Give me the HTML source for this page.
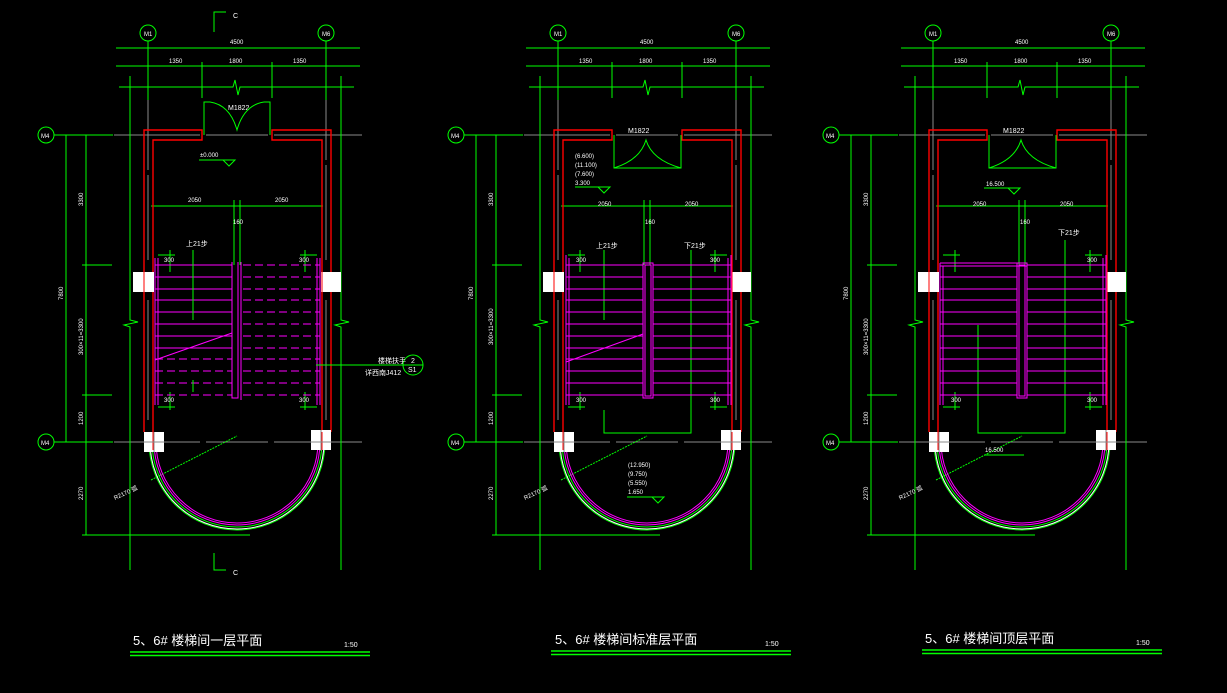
<!DOCTYPE html>
<html><head><meta charset="utf-8"><style>
html,body{margin:0;padding:0;background:#000;}
svg{display:block;}
text{font-family:"Liberation Sans","Noto Sans CJK SC",sans-serif;fill:#fff;}
</style></head><body>
<svg width="1227" height="693" viewBox="0 0 1227 693" xmlns="http://www.w3.org/2000/svg">
<defs>
<g id="base" fill="none">
  <!-- grey axes -->
  <g stroke="#8a8a8a" stroke-width="1">
    <path d="M114 135H200M206 135H268M274 135H362M114 442H200M206 442H268M274 442H362"/>
    <path d="M148 100V170M148 175V260M148 300V420M326 100V160M326 165V260M326 300V420"/>
  </g>
  <g stroke="#00ff00" stroke-width="1">
    <circle cx="148" cy="33" r="8"/><circle cx="326" cy="33" r="8"/>
    <path d="M148 41V100M326 41V100"/>
    <path d="M116 48H360M116 66H360M202 62V98M272 62V98"/>
    <path d="M119 87H233L235 80L238 95L240 87H354"/>
    <path d="M130 76V320L138 322L124 325L130 327V570M341 76V320L349 322L335 325L341 327V570"/>
    <circle cx="46" cy="135" r="8"/><circle cx="46" cy="442" r="8"/>
    <path d="M54 135H113M54 442H113M66 135V442M86 135V535M82 265H112M82 395H112M82 535H250"/>
    <path d="M151 206H323M234 200V265M240 200V265"/>
    <path d="M151 480 L237 436" stroke-dasharray="2 1"/>
    <path d="M149 442 A88 88 0 0 0 325 442"/>
    <path d="M152 442 A85 85 0 0 0 322 442"/>
    <path d="M135 114V114"/>
  </g>
  <g stroke="#fff" stroke-width="1" fill="none">
    <path d="M150 442 A87 87 0 0 0 324 442"/>
  </g>
  <g stroke="#ff00ff" stroke-width="1" fill="none">
    <path d="M154 442 A83 83 0 0 0 320 442"/>
    <path d="M156 442 A81 81 0 0 0 318 442"/>
  </g>
  <!-- red walls -->
  <g stroke="#ff0000" stroke-width="1.4" fill="none">
    <path d="M202 135V130H144V432M202 135V140H153V432"/>
    <path d="M272 135V130H331V432M272 135V140H322V432"/>
  </g>
  <!-- white pillars -->
  <g fill="#fff">
    <rect x="133" y="272" width="21" height="20"/><rect x="321" y="272" width="20" height="20"/>
    <rect x="144" y="432" width="20" height="20"/><rect x="311" y="430" width="20" height="20"/>
  </g>
  <g stroke="#ff0000" stroke-width="1"><path d="M144 272V292M322 272V292M153 432V450M322 432V450"/></g>
  <g stroke="#888"><path d="M144 442H164M311 442H331M154 432V452M321 430V451"/></g>
  <!-- small dims near stairs -->
  <g stroke="#00ff00"><path d="M158 255H175M170 250V272M300 255H317M305 250V272M158 407H175M170 392V410M300 407H317M305 392V410"/></g>
</g>
</defs>

<use href="#base"/>
<use href="#base" transform="translate(410 0)"/>
<use href="#base" transform="translate(785 0)"/>

<!-- ============ PLAN 1 ============ -->
<g font-size="6">
  <text x="144" y="36">M1</text><text x="322" y="36">M6</text>
  <text x="41" y="138">M4</text><text x="41" y="445">M4</text>
  <text x="230" y="44">4500</text>
  <text x="169" y="63">1350</text><text x="229" y="63">1800</text><text x="293" y="63">1350</text>
  <text x="188" y="202">2050</text><text x="275" y="202">2050</text><text x="233" y="224">160</text>
  <text x="200" y="157">±0.000</text>
  <text x="186" y="246" font-size="7">上21步</text>
  <text x="164" y="262">300</text><text x="299" y="262">300</text><text x="164" y="402">300</text><text x="299" y="402">300</text>
  <text transform="translate(83 206) rotate(-90)">3300</text>
  <text transform="translate(63 300) rotate(-90)">7800</text>
  <text transform="translate(83 355) rotate(-90)">300×11=3300</text>
  <text transform="translate(83 425) rotate(-90)">1200</text>
  <text transform="translate(83 500) rotate(-90)">2270</text>
  <text transform="translate(115 500) rotate(-25)">R2170 弧</text>
  <text x="228" y="110" font-size="7">M1822</text>
  <text x="233" y="18" font-size="7">C</text><text x="233" y="575" font-size="7">C</text>
</g>
<path d="M214 32V12H226M214 553V570H226" stroke="#00ff00" fill="none"/>
<path d="M204 135V102H210M270 135V102H264M210 102Q230 105 237 130Q244 105 264 102" stroke="#00ff00" fill="none"/>
<path d="M199 160H235L229 166L223 160" stroke="#00ff00" fill="none"/>
<!-- stairs plan1 -->
<g stroke="#ff00ff" stroke-width="1" fill="none">
  <path d="M155 265H232M155 277H232M155 289H232M155 300H232M155 312H232M155 324H232M155 336H232M155 348H232"/>
  <path d="M155 359H232M155 371H232M155 383H232M155 395H232" stroke-dasharray="8 4"/>
  <path d="M243 265H320M243 277H320M243 289H320M243 300H320M243 312H320M243 324H320M243 336H320M243 348H320M243 359H320M243 371H320M243 383H320M243 395H320" stroke-dasharray="8 4"/>
  <path d="M232 262V398H238V262M241 262V400" />
  <path d="M155 258V405M158 258V405M317 258V405M320 258V405"/>
  <path d="M155 360L232 333"/>
</g>
<path d="M193 250V320M193 380V392" stroke="#00ff00"/>
<path d="M316 365H420" stroke="#00ff00"/>
<circle cx="413" cy="365" r="10" stroke="#00ff00" fill="none"/>
<path d="M403 365H423" stroke="#00ff00"/>
<text x="411" y="363" font-size="7">2</text><text x="408" y="372" font-size="7">S1</text>
<text x="378" y="363" font-size="7">楼梯扶手</text><text x="365" y="375" font-size="7">详西南J412</text>

<!-- ============ PLAN 2 ============ -->
<g font-size="6">
  <text x="554" y="36">M1</text><text x="732" y="36">M6</text>
  <text x="451" y="138">M4</text><text x="451" y="445">M4</text>
  <text x="640" y="44">4500</text>
  <text x="579" y="63">1350</text><text x="639" y="63">1800</text><text x="703" y="63">1350</text>
  <text x="598" y="206">2050</text><text x="685" y="206">2050</text><text x="645" y="224">160</text>
  <text x="575" y="158">(6.600)</text><text x="575" y="167">(11.100)</text><text x="575" y="176">(7.600)</text><text x="575" y="185">3.300</text>
  <text x="596" y="248" font-size="7">上21步</text><text x="684" y="248" font-size="7">下21步</text>
  <text x="576" y="262">300</text><text x="710" y="262">300</text><text x="576" y="402">300</text><text x="710" y="402">300</text>
  <text transform="translate(493 206) rotate(-90)">3300</text>
  <text transform="translate(473 300) rotate(-90)">7800</text>
  <text transform="translate(493 345) rotate(-90)">300×11=3300</text>
  <text transform="translate(493 425) rotate(-90)">1200</text>
  <text transform="translate(493 500) rotate(-90)">2270</text>
  <text transform="translate(525 500) rotate(-25)">R2170 弧</text>
  <text x="628" y="133" font-size="7">M1822</text>
  <text x="628" y="467">(12.950)</text><text x="628" y="476">(9.750)</text><text x="628" y="485">(5.550)</text><text x="628" y="494">1.650</text>
</g>
<path d="M614 135V168H681V135M614 168Q640 160 646 140Q652 160 681 168" stroke="#00ff00" fill="none"/>
<path d="M575 187H610L604 193L598 187M627 497H664L658 503L652 497" stroke="#00ff00" fill="none"/>
<path d="M604 410V433H691V410M604 250V320M691 250V410" stroke="#00ff00" fill="none"/>
<g stroke="#ff00ff" stroke-width="1" fill="none">
  <path d="M566 265H643M566 277H643M566 289H643M566 300H643M566 312H643M566 324H643M566 336H643M566 348H643M566 359H643M566 371H643M566 383H643M566 395H643"/>
  <path d="M653 265H731M653 277H731M653 289H731M653 300H731M653 312H731M653 324H731M653 336H731M653 348H731M653 359H731M653 371H731M653 383H731M653 395H731"/>
  <rect x="643" y="263" width="10" height="135"/><rect x="645" y="265" width="6" height="131"/>
  <path d="M566 255V405M569 258V405M728 258V405M731 255V405"/>
  <path d="M566 362L643 334"/>
</g>

<!-- ============ PLAN 3 ============ -->
<g font-size="6">
  <text x="929" y="36">M1</text><text x="1107" y="36">M6</text>
  <text x="826" y="138">M4</text><text x="826" y="445">M4</text>
  <text x="1015" y="44">4500</text>
  <text x="954" y="63">1350</text><text x="1014" y="63">1800</text><text x="1078" y="63">1350</text>
  <text x="973" y="206">2050</text><text x="1060" y="206">2050</text><text x="1020" y="224">160</text>
  <text x="986" y="186">16.500</text>
  <text x="1058" y="235" font-size="7">下21步</text>
  <text x="1087" y="262">300</text><text x="951" y="402">300</text><text x="1087" y="402">300</text>
  <text transform="translate(868 206) rotate(-90)">3300</text>
  <text transform="translate(848 300) rotate(-90)">7800</text>
  <text transform="translate(868 355) rotate(-90)">300×11=3300</text>
  <text transform="translate(868 425) rotate(-90)">1200</text>
  <text transform="translate(868 500) rotate(-90)">2270</text>
  <text transform="translate(900 500) rotate(-25)">R2170 弧</text>
  <text x="1003" y="133" font-size="7">M1822</text>
  <text x="985" y="452">16.500</text>
</g>
<path d="M989 135V168H1056V135M989 168Q1015 160 1021 140Q1027 160 1056 168" stroke="#00ff00" fill="none"/>
<path d="M984 188H1020L1014 194L1008 188M984 455H1024" stroke="#00ff00" fill="none"/>
<path d="M978 325V433H1065V410M1065 240V410" stroke="#00ff00" fill="none"/>
<g stroke="#ff00ff" stroke-width="1" fill="none">
  <path d="M940 263H1027M940 266H1027"/>
  <path d="M940 277H1017M940 289H1017M940 300H1017M940 312H1017M940 324H1017M940 336H1017M940 348H1017M940 359H1017M940 371H1017M940 383H1017M940 395H1017"/>
  <path d="M1027 265H1106M1027 277H1106M1027 289H1106M1027 300H1106M1027 312H1106M1027 324H1106M1027 336H1106M1027 348H1106M1027 359H1106M1027 371H1106M1027 383H1106M1027 395H1106"/>
  <rect x="1017" y="263" width="10" height="135"/><rect x="1019" y="265" width="6" height="131"/>
  <path d="M940 263V405M943 266V405M1103 258V405M1106 255V405"/>
</g>

<!-- ============ TITLES ============ -->
<g font-size="13" font-family="Liberation Sans, Noto Sans CJK SC, sans-serif">
  <text x="133" y="645">5、6#  楼梯间一层平面</text>
  <text x="555" y="644">5、6#  楼梯间标准层平面</text>
  <text x="925" y="643">5、6#  楼梯间顶层平面</text>
</g>
<g font-size="7">
  <text x="344" y="647">1:50</text><text x="765" y="646">1:50</text><text x="1136" y="645">1:50</text>
</g>
<g stroke="#00ff00" stroke-width="1.5">
  <path d="M130 652H370M130 655.5H370"/>
  <path d="M551 651H791M551 654.5H791"/>
  <path d="M922 650H1162M922 653.5H1162"/>
</g>
</svg>
</body></html>
